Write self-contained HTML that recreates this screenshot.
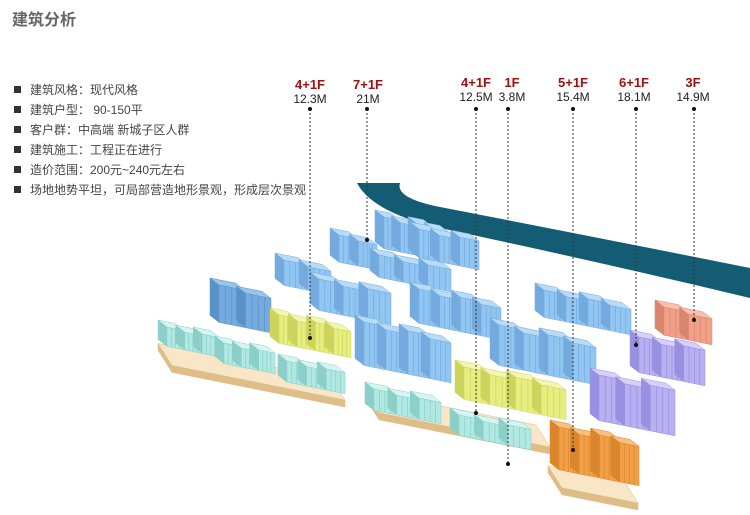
<!DOCTYPE html>
<html><head><meta charset="utf-8">
<style>
body{margin:0;background:#fff;}
#w{position:relative;width:750px;height:515px;overflow:hidden;font-family:"Liberation Sans","Noto Sans CJK SC",sans-serif;}
.t{position:absolute;left:12px;top:6px;font-size:16px;font-weight:bold;color:#666;}
ul{position:absolute;left:14px;top:80px;margin:0;padding:0;list-style:none;font-size:12px;color:#444;}
li{height:20px;line-height:20px;}
li:before{content:"";display:inline-block;width:7px;height:7px;background:#333;margin-right:9px;vertical-align:1px;}
.lb{position:absolute;text-align:center;width:60px;font-size:12px;line-height:14px;color:#222;}
.lb b{display:block;color:#a01010;font-size:13px;}
svg{position:absolute;left:0;top:0;}
</style></head><body><div id="w">
<div class="t">建筑分析</div>
<ul>
<li>建筑风格：现代风格</li>
<li>建筑户型： 90-150平</li>
<li>客户群：中高端 新城子区人群</li>
<li>建筑施工：工程正在进行</li>
<li>造价范围：200元~240元左右</li>
<li>场地地势平坦，可局部营造地形景观，形成层次景观</li>
</ul>
<svg id="s" width="750" height="515" viewBox="0 0 750 515">
<path d="M357,183 L400,183 Q395,198 440,207 Q600,238 750,268 L750,298 Q600,262 440,228 Q372,212 357,183 Z" fill="#145c74"/>
<g id="g"></g>
<g stroke="#333" stroke-width="1" stroke-dasharray="2,2" fill="none">
<line x1="310" y1="109" x2="310" y2="338"/><line x1="367" y1="109" x2="367" y2="240"/>
<line x1="476" y1="109" x2="476" y2="413"/><line x1="508" y1="109" x2="508" y2="464"/>
<line x1="573" y1="109" x2="573" y2="450"/><line x1="636" y1="109" x2="636" y2="345"/>
<line x1="694" y1="109" x2="694" y2="320"/>
</g>
<g fill="#111">
<circle cx="310" cy="109" r="2"/><circle cx="367" cy="109" r="2"/><circle cx="476" cy="109" r="2"/><circle cx="508" cy="109" r="2"/><circle cx="573" cy="109" r="2"/><circle cx="636" cy="109" r="2"/><circle cx="694" cy="109" r="2"/>
<circle cx="310" cy="338" r="2"/><circle cx="367" cy="240" r="2"/><circle cx="476" cy="413" r="2"/><circle cx="508" cy="464" r="2"/><circle cx="573" cy="450" r="2"/><circle cx="636" cy="345" r="2"/><circle cx="694" cy="320" r="2"/>
</g>
</svg>
<div class="lb" style="left:280px;top:78px"><b>4+1F</b>12.3M</div>
<div class="lb" style="left:338px;top:78px"><b>7+1F</b>21M</div>
<div class="lb" style="left:446px;top:76px"><b>4+1F</b>12.5M</div>
<div class="lb" style="left:482px;top:76px"><b>1F</b>3.8M</div>
<div class="lb" style="left:543px;top:76px"><b>5+1F</b>15.4M</div>
<div class="lb" style="left:604px;top:76px"><b>6+1F</b>18.1M</div>
<div class="lb" style="left:663px;top:76px"><b>3F</b>14.9M</div>
</div>
<script>
var C={b:["#92c6f2","#74aade","#b8dcf8"],d:["#74aade","#5a92c8","#98c4ea"],y:["#e6ee80","#cdd45e","#f2f6b0"],c:["#b0e8e2","#8ccfc8","#d4f6f2"],p:["#b8b0f0","#9890e0","#d6d0fa"],s:["#f0a088","#da866e","#f8c0b0"],o:["#f2a048","#da862c","#f8c080"],t:["#f4d8a8","#dfbd88","#f8e6c6"]};
var B=[
[158,325,345,407,"t",1,7],[365,392,550,454,"t",1,7],[548,440,638,510,"t",1,7],
[375,210,450,262,"b",4],[330,228,378,270,"b",2],[410,222,480,270,"b",3],
[275,253,332,295,"b",2],[370,248,452,292,"b",3],
[210,278,272,333,"d",2],[310,272,392,325,"b",3],[410,282,502,340,"b",4],[535,283,632,335,"b",4],
[270,308,352,358,"y",4],[158,320,220,357,"c",3],[215,336,276,374,"c",3],[278,354,346,394,"c",3],
[355,315,452,383,"b",4],[490,318,597,385,"b",4],
[655,300,713,345,"s",2],[630,330,706,386,"p",3],
[455,360,567,420,"y",4],[590,368,676,436,"p",3],
[365,382,442,424,"c",3],[450,408,532,450,"c",3],[550,420,640,486,"o",4]];
B.sort(function(a,b){return (a[6]?0:1)-(b[6]?0:1)||a[3]-b[3];});
var g=document.getElementById("g"),h="";
function P(a){return a.map(function(p){return p[0].toFixed(1)+","+p[1].toFixed(1)}).join(" ");}
B.forEach(function(q){
var x1=q[0],y1=q[1],x2=q[2],y2=q[3],c=C[q[4]],n=q[5],base=q[6];
var bx=-9,by=-7,k=0.2;
if(base){bx=-14;by=-22;}
var W=x2-x1+bx;
var y0=y2-k*W;var H=base?base:(y0+by-y1);
var sw=W/n;
for(var i=0;i<n;i++){
var hh=H*(i%2?0.92:1);var x=x1-bx+i*sw,y=y0+k*i*sw,w=sw-(base?0:1);
var a=[w,k*w];
var fr=[[x,y],[x+a[0],y+a[1]],[x+a[0],y+a[1]-hh],[x,y-hh]];
var tp=[[x,y-hh],[x+a[0],y+a[1]-hh],[x+a[0]+bx,y+a[1]+by-hh],[x+bx,y+by-hh]];
var sd=[[x,y],[x+bx,y+by],[x+bx,y+by-hh],[x,y-hh]];
h+='<polygon points="'+P(sd)+'" fill="'+c[1]+'" stroke="'+c[1]+'" stroke-width="0.5"/>';
h+='<polygon points="'+P(fr)+'" fill="'+(base?c[1]:c[0])+'" stroke="'+c[1]+'" stroke-width="0.5"/>';
h+='<polygon points="'+P(tp)+'" fill="'+c[2]+'" stroke="'+c[1]+'" stroke-width="0.5"/>';
if(!base){for(var j=1;j<4;j++){var xx=x+w*j/4;h+='<line x1="'+xx.toFixed(1)+'" y1="'+(y+k*w*j/4-hh).toFixed(1)+'" x2="'+xx.toFixed(1)+'" y2="'+(y+k*w*j/4).toFixed(1)+'" stroke="'+c[1]+'" stroke-width="0.7"/>';}}
}});
g.innerHTML=h;
</script>
</body></html>
